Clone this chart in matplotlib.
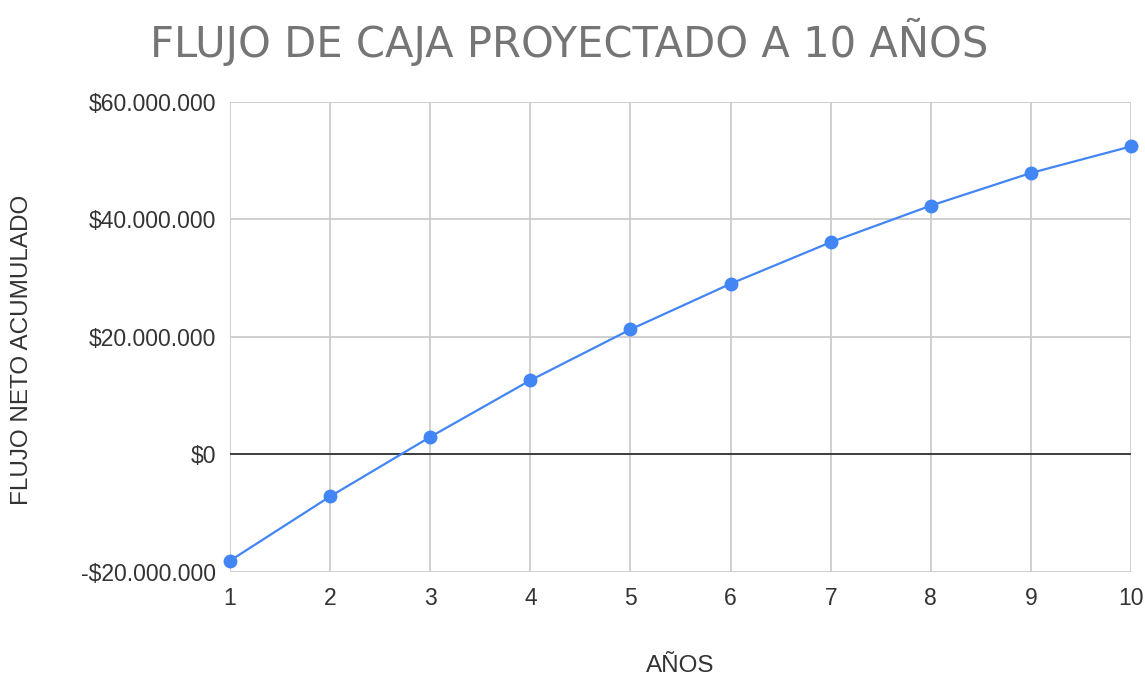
import matplotlib.pyplot as plt
from matplotlib.ticker import FuncFormatter

# Accumulated net cash flow per year
anios = [1, 2, 3, 4, 5, 6, 7, 8, 9, 10]
flujo_acumulado = [-18.08e6, -7.14e6, 2.99e6, 12.63e6, 21.29e6,
                   29.06e6, 36.13e6, 42.36e6, 47.92e6, 52.44e6]
y_ticks = [-20e6, 0, 20e6, 40e6, 60e6]


def pesos(v, pos):
    s = f"{abs(v):,.0f}".replace(",", ".")
    return f"-${s}" if v < 0 else f"${s}"


fig = plt.figure(figsize=(11.45, 6.75), dpi=100)
ax = fig.add_axes([0.2009, 0.1526, 0.7869, 0.6963])

ax.plot(anios, flujo_acumulado, color='#4285F4', linewidth=1.6,
        marker='o', markersize=9, zorder=3, clip_on=False)
ax.axhline(0, color='#333333', linewidth=1.3, zorder=2)

ax.set_xlim(1, 10)
ax.set_ylim(-20e6, 60e6)
ax.set_xticks(anios)
ax.set_yticks(y_ticks)
ax.yaxis.set_major_formatter(FuncFormatter(pesos))

ax.grid(True, color='#cccccc', linewidth=1.3, zorder=0)
for s in ax.spines.values():
    s.set_visible(False)
ax.tick_params(length=0, labelsize=16.5, labelcolor='#333333')
ax.tick_params(axis='y', pad=10)
ax.tick_params(axis='x', pad=11)
for lbl in ax.get_xticklabels() + ax.get_yticklabels():
    lbl.set_family('Liberation Sans')

ax.set_xlabel('AÑOS', fontsize=17.5, color='#333333', family='Liberation Sans', labelpad=32)
fig.text(0.019, 0.481, 'FLUJO NETO ACUMULADO', rotation=90, ha='center', va='center',
         fontsize=17.5, color='#333333', family='Liberation Sans')
fig.text(0.497, 0.938, 'FLUJO DE CAJA PROYECTADO A 10 AÑOS', ha='center', va='center',
         fontsize=30, color='#757575', family='DejaVu Sans')

fig.savefig('out.png', dpi=100)
